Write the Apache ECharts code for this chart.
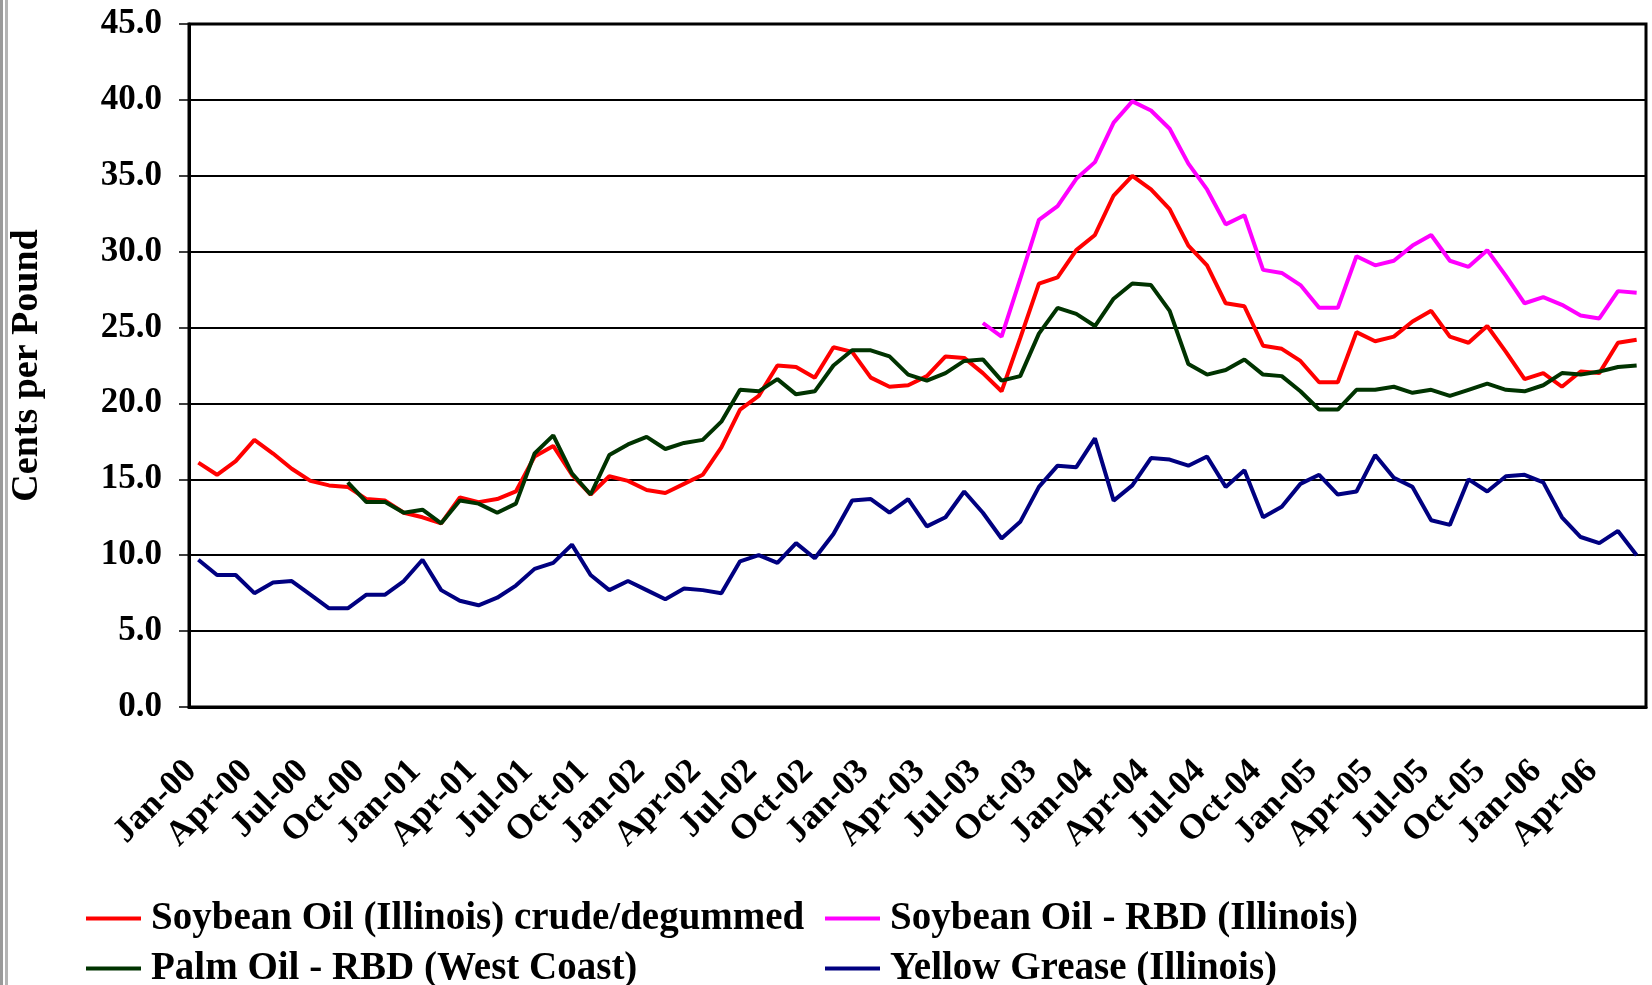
<!DOCTYPE html>
<html>
<head>
<meta charset="utf-8">
<title>Vegetable oil and grease prices</title>
<script src="https://cdn.jsdelivr.net/npm/echarts@6/dist/echarts.min.js"></script>
<style>
  html, body { margin: 0; padding: 0; background: #fff; }
  #chart { width: 1652px; height: 985px; }
</style>
</head>
<body>
<div id="chart"></div>
<script>
// month labels Jan-00 .. Jun-06
const monthNames = ['Jan', 'Feb', 'Mar', 'Apr', 'May', 'Jun', 'Jul', 'Aug', 'Sep', 'Oct', 'Nov', 'Dec'];
const years = ['00', '01', '02', '03', '04', '05', '06'];
const months = [];
years.forEach(y => monthNames.forEach((m, i) => {
  if (y !== '06' || i < 6) months.push(m + '-' + y);
}));

// cents per pound
const soyCrude = [
  16.1, 15.3, 16.2, 17.6, 16.7, 15.7, 14.9, 14.6, 14.5, 13.7, 13.6, 12.8,
  12.5, 12.1, 13.8, 13.5, 13.7, 14.2, 16.5, 17.2, 15.3, 14.0, 15.2, 14.9,
  14.3, 14.1, 14.7, 15.3, 17.1, 19.6, 20.5, 22.5, 22.4, 21.7, 23.7, 23.4,
  21.7, 21.1, 21.2, 21.8, 23.1, 23.0, 22.0, 20.8, 24.3, 27.9, 28.3, 30.1,
  31.1, 33.7, 35.0, 34.1, 32.8, 30.4, 29.1, 26.6, 26.4, 23.8, 23.6, 22.8,
  21.4, 21.4, 24.7, 24.1, 24.4, 25.4, 26.1, 24.4, 24.0, 25.1, 23.4, 21.6,
  22.0, 21.1, 22.1, 22.0, 24.0, 24.2
];
const soyRBD = [
  null, null, null, null, null, null, null, null, null, null, null, null,
  null, null, null, null, null, null, null, null, null, null, null, null,
  null, null, null, null, null, null, null, null, null, null, null, null,
  null, null, null, null, null, null, 25.3, 24.4, 28.2, 32.1, 33.0, 34.8,
  35.9, 38.5, 39.9, 39.3, 38.1, 35.8, 34.1, 31.8, 32.4, 28.8, 28.6, 27.8,
  26.3, 26.3, 29.7, 29.1, 29.4, 30.4, 31.1, 29.4, 29.0, 30.1, 28.4, 26.6,
  27.0, 26.5, 25.8, 25.6, 27.4, 27.3
];
const palmRBD = [
  null, null, null, null, null, null, null, null, 14.8, 13.5, 13.5, 12.8,
  13.0, 12.1, 13.6, 13.4, 12.8, 13.4, 16.7, 17.9, 15.4, 14.0, 16.6, 17.3,
  17.8, 17.0, 17.4, 17.6, 18.8, 20.9, 20.8, 21.6, 20.6, 20.8, 22.5, 23.5,
  23.5, 23.1, 21.9, 21.5, 22.0, 22.8, 22.9, 21.5, 21.8, 24.6, 26.3, 25.9,
  25.1, 26.9, 27.9, 27.8, 26.1, 22.6, 21.9, 22.2, 22.9, 21.9, 21.8, 20.8,
  19.6, 19.6, 20.9, 20.9, 21.1, 20.7, 20.9, 20.5, 20.9, 21.3, 20.9, 20.8,
  21.2, 22.0, 21.9, 22.1, 22.4, 22.5
];
const yellowGrease = [
  9.7, 8.7, 8.7, 7.5, 8.2, 8.3, 7.4, 6.5, 6.5, 7.4, 7.4, 8.3,
  9.7, 7.7, 7.0, 6.7, 7.2, 8.0, 9.1, 9.5, 10.7, 8.7, 7.7, 8.3,
  7.7, 7.1, 7.8, 7.7, 7.5, 9.6, 10.0, 9.5, 10.8, 9.8, 11.4, 13.6,
  13.7, 12.8, 13.7, 11.9, 12.5, 14.2, 12.8, 11.1, 12.2, 14.5, 15.9, 15.8,
  17.7, 13.6, 14.6, 16.4, 16.3, 15.9, 16.5, 14.5, 15.6, 12.5, 13.2, 14.7,
  15.3, 14.0, 14.2, 16.6, 15.1, 14.5, 12.3, 12.0, 15.0, 14.2, 15.2, 15.3,
  14.8, 12.5, 11.2, 10.8, 11.6, 10.0
];

const seriesNames = [
  'Soybean Oil (Illinois) crude/degummed',
  'Soybean Oil - RBD (Illinois)',
  'Palm Oil - RBD (West Coast)',
  'Yellow Grease (Illinois)'
];
const seriesData = [soyCrude, soyRBD, palmRBD, yellowGrease];
const seriesColors = ['#ff0000', '#ff00ff', '#003300', '#000080'];

const font = 'Liberation Serif';
const chart = echarts.init(document.getElementById('chart'));

// one legend block per entry so each sits where the original puts it
const legendPos = [
  { left: 81, top: 894 },
  { left: 820, top: 894 },
  { left: 81, top: 944 },
  { left: 820, top: 944 }
];

const option = {
  backgroundColor: '#fff',
  animation: false,
  graphic: [
    { type: 'rect', left: 0, top: 0, shape: { width: 3, height: 985 }, style: { fill: '#9a9a9a' } },
    { type: 'rect', left: 5, top: 0, shape: { width: 3, height: 985 }, style: { fill: '#b4b4b4' } }
  ],
  legend: seriesNames.map((name, i) => ({
    data: [name],
    left: legendPos[i].left,
    top: legendPos[i].top,
    icon: 'rect',
    itemWidth: 55,
    itemHeight: 4,
    itemGap: 0,
    selectedMode: false,
    textStyle: {
      fontFamily: font,
      fontWeight: 'bold',
      fontSize: 39,
      color: '#000',
      padding: [0, 0, 0, 5]
    }
  })),
  grid: {
    left: 189,
    right: 6,
    top: 24,
    bottom: 278,
    show: true,
    borderColor: '#000',
    borderWidth: 3
  },
  xAxis: {
    type: 'category',
    data: months,
    boundaryGap: true,
    axisLine: { lineStyle: { color: '#000', width: 3 } },
    axisTick: { interval: 2, length: 10, lineStyle: { color: '#000', width: 1.5 } },
    axisLabel: {
      interval: 2,
      rotate: 45,
      margin: 52,
      padding: [0, 10, 0, 0],
      fontFamily: font,
      fontWeight: 'bold',
      fontSize: 35,
      color: '#000'
    },
    splitLine: { show: false }
  },
  yAxis: {
    type: 'value',
    min: 0,
    max: 45,
    interval: 5,
    name: 'Cents per Pound',
    nameLocation: 'middle',
    nameGap: 143,
    nameTextStyle: {
      fontFamily: font,
      fontWeight: 'bold',
      fontSize: 38,
      color: '#000'
    },
    axisLine: { show: true, lineStyle: { color: '#000', width: 3 } },
    axisTick: { show: true, length: 10, lineStyle: { color: '#000', width: 1.5 } },
    axisLabel: {
      margin: 27,
      formatter: v => v.toFixed(1),
      fontFamily: font,
      fontWeight: 'bold',
      fontSize: 35,
      color: '#000'
    },
    splitLine: { lineStyle: { color: '#000', width: 2 } }
  },
  series: seriesNames.map((name, i) => ({
    name: name,
    type: 'line',
    data: seriesData[i],
    symbol: 'none',
    connectNulls: false,
    color: seriesColors[i],
    lineStyle: { color: seriesColors[i], width: 4 }
  }))
};

chart.setOption(option);
</script>
</body>
</html>
